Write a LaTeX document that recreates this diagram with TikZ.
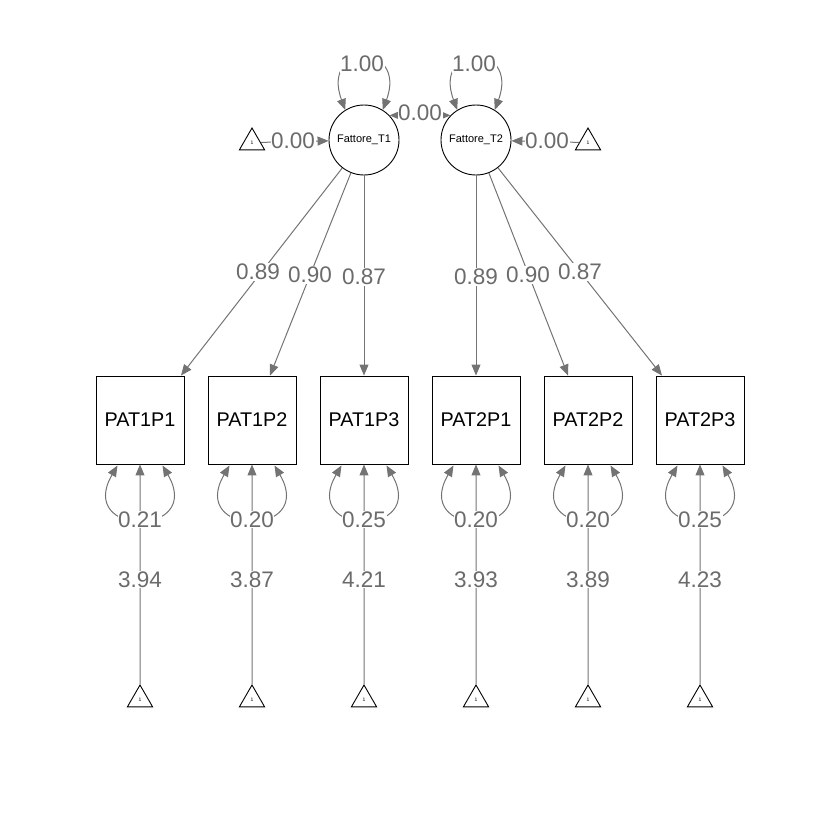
\documentclass[tikz,border=0pt]{standalone}
\usepackage{fontspec}
\setmainfont{Liberation Sans}
\usetikzlibrary{arrows.meta,calc,shapes.geometric}
\definecolor{edgegray}{gray}{0.45}
\definecolor{labgray}{gray}{0.42}
\begin{document}
\begin{tikzpicture}[x=1pt,y=-1pt,
  ind/.style={draw,line width=0.9pt,minimum width=88pt,minimum height=88pt,inner sep=0pt,
    font=\fontsize{19.8}{19.8}\selectfont},
  lat/.style={draw,circle,line width=0.9pt,minimum size=70pt,inner sep=0pt,
    font=\fontsize{11}{11}\selectfont},
  tri/.style={draw,regular polygon,regular polygon sides=3,minimum size=29.2pt,inner sep=0pt,
    line width=0.9pt,font=\fontsize{5}{5}\selectfont},
  edge/.style={draw=edgegray,line width=1pt,-{Triangle[length=11pt,width=9pt]}},
  dedge/.style={draw=edgegray,line width=1pt,{Triangle[length=11pt,width=9pt]}-{Triangle[length=11pt,width=9pt]}},
  lab/.style={text=labgray,fill=white,inner sep=0.6pt,font=\fontsize{22.5}{22.5}\selectfont}
]
\useasboundingbox (0,0) rectangle (840,840);

% latent factors
\node[lat] (f1) at (364,140) {Fattore\_T1};
\node[lat] (f2) at (476,140) {Fattore\_T2};

% indicators
\node[ind] (p1) at (140,420) {PAT1P1};
\node[ind] (p2) at (252,420) {PAT1P2};
\node[ind] (p3) at (364,420) {PAT1P3};
\node[ind] (p4) at (476,420) {PAT2P1};
\node[ind] (p5) at (588,420) {PAT2P2};
\node[ind] (p6) at (700,420) {PAT2P3};

% intercept triangles
\node[tri] (mt1) at (252,142.6) {1};
\node[tri] (mt2) at (588,142.6) {1};
\foreach \i/\x in {1/140,2/252,3/364,4/476,5/588,6/700}{
  \node[tri] (b\i) at (\x,699.6) {1};
}

% loading end points
\coordinate (c1) at ($(p1.north)+(41,0)$);
\coordinate (c2) at ($(p2.north)+(18,0)$);
\coordinate (c3) at (p3.north);
\coordinate (c4) at (p4.north);
\coordinate (c5) at ($(p5.north)+(-20,0)$);
\coordinate (c6) at ($(p6.north)+(-38,0)$);

\draw[edge] (f1) -- (c1);
\draw[edge] (f1) -- (c2);
\draw[edge] (f1) -- (c3);
\draw[edge] (f2) -- (c4);
\draw[edge] (f2) -- (c5);
\draw[edge] (f2) -- (c6);

\node[lab] (l1) at (258,272) {0.89};
\node[lab] (l2) at (310,275) {0.90};
\node[lab] (l3) at (364,277) {0.87};
\node[lab] (l4) at (476,277) {0.89};
\node[lab] (l5) at (528,275) {0.90};
\node[lab] (l6) at (580,272) {0.87};

% factor variances
\draw[dedge] (f1.122) .. controls +(-25,-68) and +(25,-68) .. (f1.58);
\draw[dedge] (f2.122) .. controls +(-25,-68) and +(25,-68) .. (f2.58);
\node[lab] (v1) at (362,64) {1.00};
\node[lab] (v2) at (474,64) {1.00};

% covariance
\draw[dedge] (f1.44) -- (f2.136);
\node[lab] (cv) at (420,113) {0.00};

% means
\draw[edge] (mt1) -- (f1);
\draw[edge] (mt2) -- (f2);
\node[lab] (m1) at (293,141) {0.00};
\node[lab] (m2) at (547,141) {0.00};

% residuals and intercepts
\foreach \i/\r/\m in {1/0.21/3.94,2/0.20/3.87,3/0.25/4.21,4/0.20/3.93,5/0.20/3.89,6/0.25/4.23}{
  \draw[edge] (b\i) -- (p\i);
  \draw[dedge] ($(p\i.south)+(-22.5,1)$) .. controls +(-42,72) and +(42,72) .. ($(p\i.south)+(22.5,1)$);
  \node[lab] (r\i) at ($(p\i.south)+(0,55)$) {\r};
  \node[lab] (i\i) at ($(p\i.south)+(0,115)$) {\m};
}
\end{tikzpicture}
\end{document}
